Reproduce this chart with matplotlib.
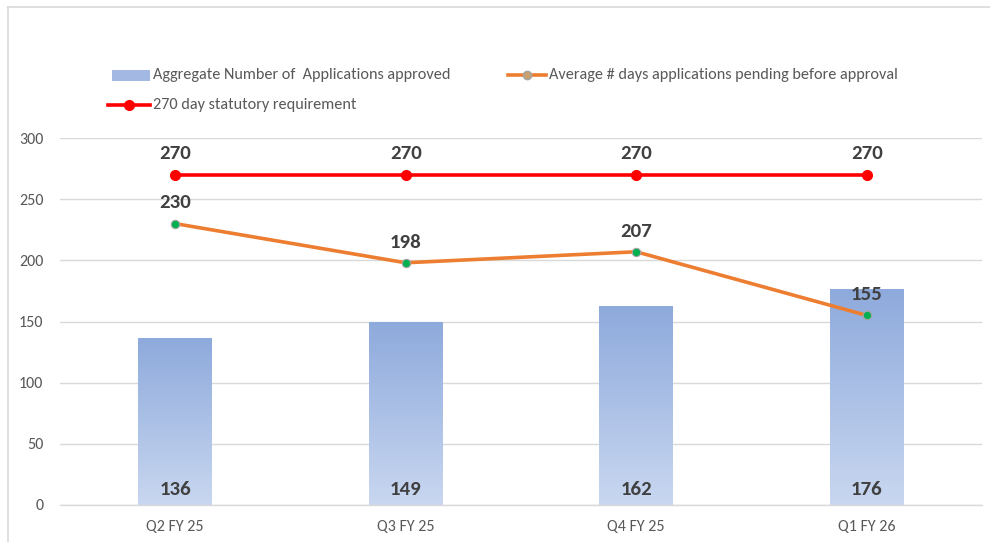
import numpy as np
import matplotlib
matplotlib.use("Agg")
import matplotlib.pyplot as plt
from matplotlib.lines import Line2D
from matplotlib.patches import Rectangle
from matplotlib.colors import LinearSegmentedColormap

categories = ["Q2 FY 25", "Q3 FY 25", "Q4 FY 25", "Q1 FY 26"]
approved = [136, 149, 162, 176]
avg_days = [230, 198, 207, 155]
statutory = [270, 270, 270, 270]

plt.rcParams['font.family'] = ['Carlito', 'Liberation Sans', 'DejaVu Sans']

fig = plt.figure(figsize=(9.9, 5.42), dpi=100)
ax = fig.add_axes([60/990, 1-505/542, 922/990, (505-138)/542])

x = np.arange(len(categories))
bw = 0.32
vfs = 15
cmap = LinearSegmentedColormap.from_list("g", ["#c9d7f0", "#8eaadc"])
grad = np.linspace(0, 1, 256).reshape(-1, 1)
for xi, v in zip(x, approved):
    ax.imshow(grad, extent=(xi - bw/2, xi + bw/2, 0, v), origin="lower",
              cmap=cmap, aspect="auto", zorder=2)
    ax.text(xi, 6, str(v), ha="center", va="bottom", fontsize=vfs,
            fontweight="bold", color="#404040", zorder=5)

ax.plot(x, avg_days, color="#ed7d31", lw=2.6, zorder=3)
ax.plot(x, avg_days, ls="none", marker="o", ms=6, mfc="#00b050",
        mec="#a5a5a5", mew=0.8, zorder=4)
for xi, v in zip(x, avg_days):
    ax.text(xi, v + 10, str(v), ha="center", va="bottom", fontsize=vfs,
            fontweight="bold", color="#404040", zorder=5)

ax.plot(x, statutory, color="#ff0000", lw=2.6, marker="o", ms=7,
        mfc="#ff0000", mec="#ff0000", zorder=3)
for xi, v in zip(x, statutory):
    ax.text(xi, v + 10, str(v), ha="center", va="bottom", fontsize=vfs,
            fontweight="bold", color="#404040", zorder=5)

ax.set_xlim(-0.5, len(categories) - 0.5)
ax.set_ylim(0, 300)
ax.set_yticks(np.arange(0, 301, 50))
ax.set_xticks(x)
ax.set_xticklabels(categories)
ax.grid(axis="y", color="#d9d9d9", lw=1, zorder=0)
ax.set_axisbelow(True)
for s in ["top", "right", "left"]:
    ax.spines[s].set_visible(False)
ax.spines["bottom"].set_color("#d9d9d9")
ax.spines["bottom"].set_linewidth(1)
ax.tick_params(axis="both", length=0, labelsize=11.5, colors="#595959")
ax.tick_params(axis="y", pad=12)
ax.tick_params(axis="x", pad=11)

# legend
fs = 11.7
fig.add_artist(Rectangle((112/990, 1-81/542), 38/990, 11/542, transform=fig.transFigure,
                         facecolor="#a3b8e2", edgecolor="none"))
fig.text(153/990, 1-75/542, "Aggregate Number of  Applications approved",
         fontsize=fs, color="#595959", va="center")
fig.add_artist(Line2D([508/990, 546/990], [1-75/542, 1-75/542], transform=fig.transFigure,
                      color="#ed7d31", lw=2.6))
fig.add_artist(Line2D([527/990], [1-75/542], transform=fig.transFigure,
                      color="#a5a5a5", marker="o", ms=6, mfc="#c9a070", ls="none"))
fig.text(549/990, 1-75/542, "Average # days applications pending before approval",
         fontsize=fs, color="#595959", va="center")
fig.add_artist(Line2D([108/990, 150/990], [1-105/542, 1-105/542], transform=fig.transFigure,
                      color="#ff0000", lw=2.6))
fig.add_artist(Line2D([129/990], [1-105/542], transform=fig.transFigure,
                      color="#ff0000", marker="o", ms=7, ls="none"))
fig.text(153/990, 1-105/542, "270 day statutory requirement",
         fontsize=fs, color="#595959", va="center")

# chart border
fig.add_artist(Line2D([8/990, 8/990], [0, 1-6.5/542], transform=fig.transFigure,
                      color="#d9d9d9", lw=1.2))
fig.add_artist(Line2D([8/990, 1], [1-6.5/542, 1-6.5/542], transform=fig.transFigure,
                      color="#d9d9d9", lw=1.2))

fig.savefig("out.png", dpi=100)
